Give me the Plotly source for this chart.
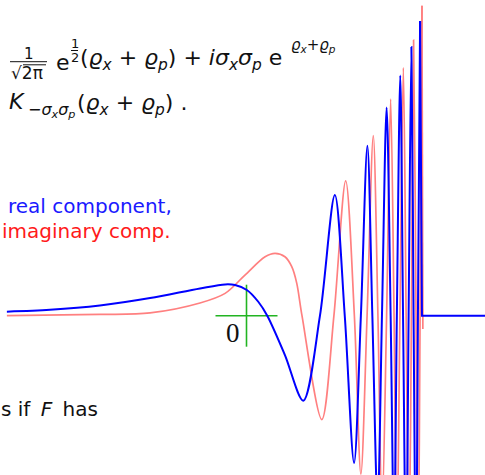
"""Slide fragment: real / imaginary part of the transform kernel."""

import plotly.graph_objects as go

W, H = 485, 475

# curves (units: green cross spans -1..1)
blue_x = [-7.73, -6.34, -4.73, -3.11, -1.50, -0.69, -0.37, 0.01, 0.38, 0.67,
          1.24, 1.83, 2.37, 2.85, 3.17, 3.47, 3.69, 3.90, 4.06, 4.23, 4.37,
          4.52, 4.65, 4.76, 4.85, 4.96, 5.05, 5.15, 5.23, 5.32, 5.39, 5.47,
          5.53, 5.60]
blue_y = [0.13, 0.19, 0.33, 0.57, 0.88, 1.01, 0.99, 0.83, 0.45, 0.00,
          -1.27, -2.74, 0.00, 3.89, 0.00, -4.75, 0.00, 5.48, 0.00, -6.14, 0.00,
          6.72, 0.00, -7.27, 0.00, 7.75, 0.00, -8.24, 0.00, 8.67, 0.00, -9.11,
          0.00, 9.51]
blue_tail_x = [5.60, 5.66, 7.75]
blue_tail_y = [9.51, 0.00, 0.00]

red_x = [-7.73, -4.73, -3.11, -1.50, -0.69, -0.05, 0.60, 0.92,
         1.24, 1.46, 1.62, 1.79, 2.43, 2.82, 3.20, 3.48, 3.69, 3.89,
         4.09, 4.24, 4.37, 4.52, 4.65, 4.76, 4.85, 4.95, 5.06, 5.15, 5.24,
         5.32, 5.39, 5.47, 5.53, 5.60, 5.66]
red_y = [0.00, 0.04, 0.09, 0.41, 0.72, 1.31, 1.90, 2.01,
         1.90, 1.58, 1.05, 0.00, -3.35, 0.00, 4.35, 0.00, -5.11, 0.00,
         5.81, 0.00, -6.46, 0.00, 6.99, 0.00, -7.53, 0.00, 8.00, 0.00, -8.46,
         0.00, 8.89, 0.00, -9.37, 0.00, 10.00]
red_tail_x = [5.66, 5.69]
red_tail_y = [10.00, -0.43]

cross = [-1, 1]

BLUE = "#0000ff"
RED = "#ff8080"
GREEN = "#22b422"
SANS = "DejaVu Sans"

fig = go.Figure()

fig.add_trace(go.Scatter(x=red_x, y=red_y, mode="lines",
                         line=dict(color=RED, width=1.7, shape="spline", smoothing=0.9)))
fig.add_trace(go.Scatter(x=red_tail_x, y=red_tail_y, mode="lines",
                         line=dict(color=RED, width=1.7)))
fig.add_trace(go.Scatter(x=cross, y=[0, 0], mode="lines",
                         line=dict(color=GREEN, width=1.6)))
fig.add_trace(go.Scatter(x=[0, 0], y=cross, mode="lines",
                         line=dict(color=GREEN, width=1.6)))
fig.add_trace(go.Scatter(x=blue_x, y=blue_y, mode="lines",
                         line=dict(color=BLUE, width=2, shape="spline", smoothing=0.9)))
fig.add_trace(go.Scatter(x=blue_tail_x, y=blue_tail_y, mode="lines",
                         line=dict(color=BLUE, width=2)))

fig.add_annotation(x=-0.42, y=-0.55, xref="x", yref="y", text="0",
                   showarrow=False, font=dict(family="Liberation Serif", size=27, color="#111"))


def note(text, x, y, size=22, color="#111", anchor="left"):
    # x, y in slide pixels
    fig.add_annotation(x=x / W, y=1 - y / H, xref="paper", yref="paper",
                       text=text, showarrow=False, xanchor=anchor, yanchor="middle",
                       font=dict(family=SANS, size=size, color=color))


def rule(x0, x1, y):
    fig.add_shape(type="line", xref="paper", yref="paper",
                  x0=x0 / W, x1=x1 / W, y0=1 - y / H, y1=1 - y / H,
                  line=dict(color="#111", width=1))


# 1/sqrt(2 pi)
note("1", 29, 54, size=15, anchor="center")
rule(10, 47, 61.7)
note("√2π", 9, 73, size=17)
rule(23, 46, 64.8)  # radical bar
# e^{1/2}
note("e", 54, 62)
note("1", 74.5, 43, size=13, anchor="center")
rule(71, 78, 50.5)
note("2", 74.5, 57, size=13, anchor="center")
note("(<i>ϱ</i><sub><i>x</i></sub> + <i>ϱ</i><sub><i>p</i></sub>) + "
     "<i>iσ</i><sub><i>x</i></sub><i>σ</i><sub><i>p</i></sub> e",
     78, 60)
note("<i>ϱ</i><sub><i>x</i></sub>+<i>ϱ</i><sub><i>p</i></sub>", 289, 46, size=15)
# second line
note("<i>K</i>", 7, 102)
note("−<i>σ</i><sub><i>x</i></sub><i>σ</i><sub><i>p</i></sub>", 26, 110, size=16)
note("(<i>ϱ</i><sub><i>x</i></sub> + <i>ϱ</i><sub><i>p</i></sub>) .", 75, 104)

note("real component,", 6, 206, size=20, color="#1a1aff")
note("imaginary comp.", 0, 231, size=20, color="#ff1a1a")
note("s if \u2009<i>F</i>\u2009 has", -1, 409, size=20)

fig.update_layout(
    width=W,
    height=H,
    margin=dict(l=0, r=0, t=0, b=0),
    showlegend=False,
    plot_bgcolor="white",
    paper_bgcolor="white",
    xaxis=dict(visible=False, range=[-7.952, 7.694], fixedrange=True),
    yaxis=dict(visible=False, range=[-5.139, 10.184], fixedrange=True),
)

# page body has a default 8px margin; drop it so the slide sits at 0,0
fig.write_html("out.html", config={"displayModeBar": False},
               post_script="document.body.style.margin='0';")
